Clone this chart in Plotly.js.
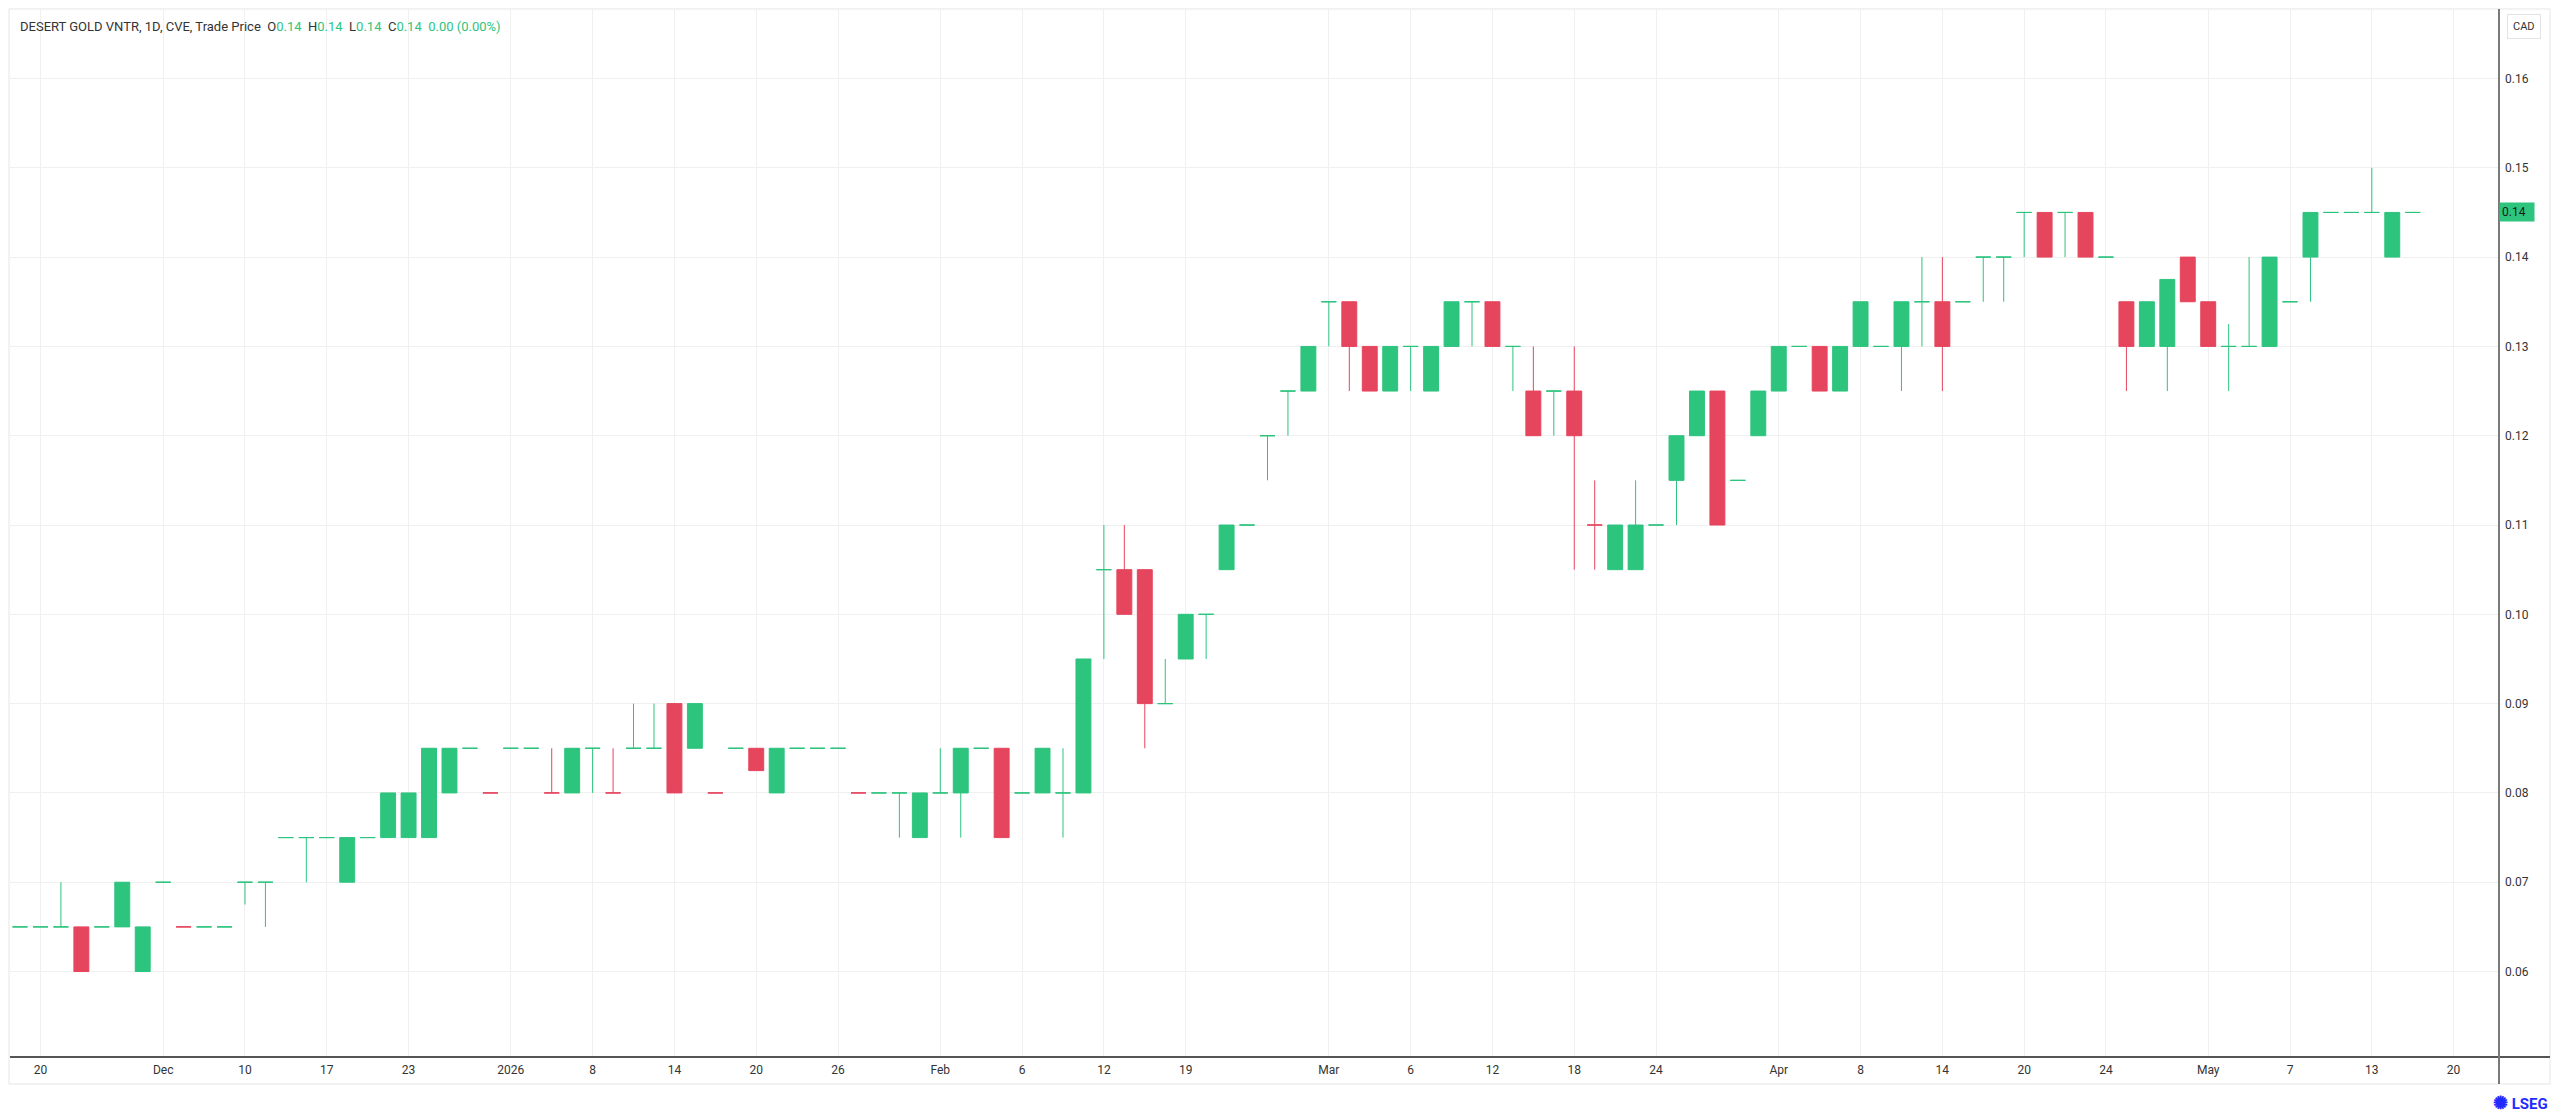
<!DOCTYPE html>
<html>
<head>
<meta charset="utf-8">
<script src="https://cdn.plot.ly/plotly-3.0.1.min.js"></script>
<style>
  html, body { margin: 0; padding: 0; background: #fff; }
  #chart { width: 2560px; height: 1115px; }
</style>
</head>
<body>
<div id="chart"></div>
<script>
// daily bars, oldest first, CAD
const barOpen = [
    0.065, 0.065, 0.065, 0.065, 0.065, 0.065, 0.06, 0.07, 0.065, 0.065,
    0.065, 0.07, 0.07, 0.075, 0.075, 0.075, 0.07, 0.075, 0.075, 0.075,
    0.075, 0.08, 0.085, 0.08, 0.085, 0.085, 0.08, 0.08, 0.085, 0.08,
    0.085, 0.085, 0.09, 0.085, 0.08, 0.085, 0.085, 0.08, 0.085, 0.085,
    0.085, 0.08, 0.08, 0.08, 0.075, 0.08, 0.08, 0.085, 0.085, 0.08,
    0.08, 0.08, 0.08, 0.105, 0.105, 0.105, 0.09, 0.095, 0.10, 0.105,
    0.11, 0.12, 0.125, 0.125, 0.135, 0.135, 0.13, 0.125, 0.13, 0.125,
    0.13, 0.135, 0.135, 0.13, 0.125, 0.125, 0.125, 0.11, 0.105, 0.105,
    0.11, 0.115, 0.12, 0.125, 0.115, 0.12, 0.125, 0.13, 0.13, 0.125,
    0.13, 0.13, 0.13, 0.135, 0.135, 0.135, 0.14, 0.14, 0.145, 0.145,
    0.145, 0.145, 0.14, 0.135, 0.13, 0.13, 0.14, 0.135, 0.13, 0.13,
    0.13, 0.135, 0.14, 0.145, 0.145, 0.145, 0.14, 0.145
];
const barHigh = [
    0.065, 0.065, 0.07, 0.065, 0.065, 0.07, 0.065, 0.07, 0.065, 0.065,
    0.065, 0.07, 0.07, 0.075, 0.075, 0.075, 0.075, 0.075, 0.08, 0.08,
    0.085, 0.085, 0.085, 0.08, 0.085, 0.085, 0.085, 0.085, 0.085, 0.085,
    0.09, 0.09, 0.09, 0.09, 0.08, 0.085, 0.085, 0.085, 0.085, 0.085,
    0.085, 0.08, 0.08, 0.08, 0.08, 0.085, 0.085, 0.085, 0.085, 0.08,
    0.085, 0.085, 0.095, 0.11, 0.11, 0.105, 0.095, 0.10, 0.10, 0.11,
    0.11, 0.12, 0.125, 0.13, 0.135, 0.135, 0.13, 0.13, 0.13, 0.13,
    0.135, 0.135, 0.135, 0.13, 0.13, 0.125, 0.13, 0.115, 0.11, 0.115,
    0.11, 0.12, 0.125, 0.125, 0.115, 0.125, 0.13, 0.13, 0.13, 0.13,
    0.135, 0.13, 0.135, 0.14, 0.14, 0.135, 0.14, 0.14, 0.145, 0.145,
    0.145, 0.145, 0.14, 0.135, 0.135, 0.1375, 0.14, 0.135, 0.1325, 0.14,
    0.14, 0.135, 0.145, 0.145, 0.145, 0.15, 0.145, 0.145
];
const barLow = [
    0.065, 0.065, 0.065, 0.06, 0.065, 0.065, 0.06, 0.07, 0.065, 0.065,
    0.065, 0.0675, 0.065, 0.075, 0.07, 0.075, 0.07, 0.075, 0.075, 0.075,
    0.075, 0.08, 0.085, 0.08, 0.085, 0.085, 0.08, 0.08, 0.08, 0.08,
    0.085, 0.085, 0.08, 0.085, 0.08, 0.085, 0.0825, 0.08, 0.085, 0.085,
    0.085, 0.08, 0.08, 0.075, 0.075, 0.08, 0.075, 0.085, 0.075, 0.08,
    0.08, 0.075, 0.08, 0.095, 0.10, 0.085, 0.09, 0.095, 0.095, 0.105,
    0.11, 0.115, 0.12, 0.125, 0.13, 0.125, 0.125, 0.125, 0.125, 0.125,
    0.13, 0.13, 0.13, 0.125, 0.12, 0.12, 0.105, 0.105, 0.105, 0.105,
    0.11, 0.11, 0.12, 0.11, 0.115, 0.12, 0.125, 0.13, 0.125, 0.125,
    0.13, 0.13, 0.125, 0.13, 0.125, 0.135, 0.135, 0.135, 0.14, 0.14,
    0.14, 0.14, 0.14, 0.125, 0.13, 0.125, 0.135, 0.13, 0.125, 0.13,
    0.13, 0.135, 0.135, 0.145, 0.145, 0.145, 0.14, 0.145
];
const barClose = [
    0.065, 0.065, 0.065, 0.06, 0.065, 0.07, 0.065, 0.07, 0.065, 0.065,
    0.065, 0.07, 0.07, 0.075, 0.075, 0.075, 0.075, 0.075, 0.08, 0.08,
    0.085, 0.085, 0.085, 0.08, 0.085, 0.085, 0.08, 0.085, 0.085, 0.08,
    0.085, 0.085, 0.08, 0.09, 0.08, 0.085, 0.0825, 0.085, 0.085, 0.085,
    0.085, 0.08, 0.08, 0.08, 0.08, 0.08, 0.085, 0.085, 0.075, 0.08,
    0.085, 0.08, 0.095, 0.105, 0.10, 0.09, 0.09, 0.10, 0.10, 0.11,
    0.11, 0.12, 0.125, 0.13, 0.135, 0.13, 0.125, 0.13, 0.13, 0.13,
    0.135, 0.135, 0.13, 0.13, 0.12, 0.125, 0.12, 0.11, 0.11, 0.11,
    0.11, 0.12, 0.125, 0.11, 0.115, 0.125, 0.13, 0.13, 0.125, 0.13,
    0.135, 0.13, 0.135, 0.135, 0.13, 0.135, 0.14, 0.14, 0.145, 0.14,
    0.145, 0.14, 0.14, 0.13, 0.135, 0.1375, 0.135, 0.13, 0.13, 0.13,
    0.14, 0.135, 0.145, 0.145, 0.145, 0.145, 0.145, 0.145
];

// date labels sit on bar numbers (only traded days get a bar)
const tickIdx = [1, 7, 11, 15, 19, 24, 28, 32, 36, 40, 45, 49, 53, 57,
    64, 68, 72, 76, 80, 86, 90, 94, 98, 102, 107, 111, 115, 119];
const tickText = ['20', 'Dec', '10', '17', '23', '2026', '8', '14', '20', '26', 'Feb', '6', '12', '19',
    'Mar', '6', '12', '18', '24', 'Apr', '8', '14', '20', '24', 'May', '7', '13', '20'];
const priceTicks = [0.06, 0.07, 0.08, 0.09, 0.10, 0.11, 0.12, 0.13, 0.14, 0.15, 0.16];

const UP = '#2dc47e';
const DOWN = '#e6455e';
const GRID = '#f0f0f0';

// colour: close vs open; flat bars go red only when they fall below the previous body
function splitBars() {
    const up = {x: [], open: [], high: [], low: [], close: []};
    const down = {x: [], open: [], high: [], low: [], close: []};
    for (let i = 0; i < barClose.length; i++) {
        const o = barOpen[i], c = barClose[i];
        let isUp;
        if (c !== o) isUp = c > o;
        else isUp = i === 0 || c >= Math.min(barOpen[i - 1], barClose[i - 1]);
        const t = isUp ? up : down;
        t.x.push(i);
        t.open.push(o);
        t.high.push(barHigh[i]);
        t.low.push(barLow[i]);
        t.close.push(c);
    }
    return [up, down];
}

function candleTrace(bars, color) {
    return {
        type: 'candlestick',
        x: bars.x, open: bars.open, high: bars.high, low: bars.low, close: bars.close,
        increasing: {line: {color: color, width: 1}, fillcolor: color},
        decreasing: {line: {color: color, width: 1}, fillcolor: color},
        whiskerwidth: 0,
        hoverinfo: 'skip',
        showlegend: false
    };
}

const [upBars, downBars] = splitBars();
const last = barClose[barClose.length - 1];
const data = [candleTrace(upBars, UP), candleTrace(downBars, DOWN)];

const g = (s) => '<span style="color:' + UP + '">' + s + '</span>';
const sp = '\u00a0\u00a0';
const header = 'DESERT GOLD VNTR, 1D, CVE, Trade Price' + sp +
    'O' + g('0.14') + sp + 'H' + g('0.14') + sp + 'L' + g('0.14') + sp + 'C' + g('0.14') +
    sp + g('0.00 (0.00%)');

const layout = {
    width: 2560,
    height: 1115,
    margin: {l: 10, r: 62, t: 10, b: 58},
    paper_bgcolor: '#ffffff',
    plot_bgcolor: '#ffffff',
    font: {family: 'Roboto, "Noto Sans", sans-serif', size: 12, color: '#333333'},
    boxgap: 0.27,
    boxgroupgap: 0,
    xaxis: {
        range: [-0.49, 121.17],
        tickmode: 'array',
        tickvals: tickIdx,
        ticktext: tickText,
        showgrid: true,
        gridcolor: GRID,
        zeroline: false,
        showline: false,
        ticks: '',
        ticklabelstandoff: 4,
        rangeslider: {visible: false},
        fixedrange: true
    },
    yaxis: {
        side: 'right',
        range: [0.05043, 0.16767],
        tickmode: 'array',
        tickvals: priceTicks,
        ticktext: priceTicks.map(v => v.toFixed(2)),
        showgrid: true,
        gridcolor: GRID,
        zeroline: false,
        showline: false,
        ticks: '',
        ticklabelstandoff: 6,
        fixedrange: true
    },
    shapes: [
        // widget frame
        {type: 'rect', xref: 'paper', yref: 'paper', x0: -0.0004, x1: 1.0209, y0: -0.0258, y1: 1.001,
            line: {color: '#e6e6e6', width: 1}, fillcolor: 'rgba(0,0,0,0)', layer: 'below'},
        // time axis line
        {type: 'line', xref: 'paper', yref: 'paper', x0: 0, x1: 1.0209, y0: 0, y1: 0,
            line: {color: '#555555', width: 2}},
        // price axis line
        {type: 'line', xref: 'paper', yref: 'paper', x0: 1.0004, x1: 1.0004, y0: -0.0258, y1: 1.001,
            line: {color: '#7a7a7a', width: 2}}
    ],
    annotations: [
        {xref: 'paper', yref: 'paper', x: 0.0032, y: 0.9847, xanchor: 'left', yanchor: 'middle',
            text: header, showarrow: false, font: {size: 13, color: '#333333'}},
        {xref: 'paper', yref: 'y', x: 1.0004, y: last, xanchor: 'left', yanchor: 'middle',
            text: last.toFixed(2), showarrow: false, bgcolor: UP, borderpad: 2, width: 30, align: 'left',
            font: {size: 12, color: '#1a1a1a'}},
        {xref: 'paper', yref: 'paper', x: 1.0105, y: 0.9838, xanchor: 'center', yanchor: 'middle',
            text: 'CAD', showarrow: false, bgcolor: '#ffffff', bordercolor: '#e3e3e3', borderwidth: 1,
            borderpad: 5, font: {size: 11, color: '#333333'}},
        {xref: 'paper', yref: 'paper', x: 1.0209, y: -0.0439, xanchor: 'right', yanchor: 'middle',
            text: '<b><span style="font-size:18px">✺</span> LSEG</b>', showarrow: false,
            font: {size: 15, color: '#1f2bff'}}
    ]
};

Plotly.newPlot('chart', data, layout, {staticPlot: true, displayModeBar: false});
</script>
</body>
</html>
